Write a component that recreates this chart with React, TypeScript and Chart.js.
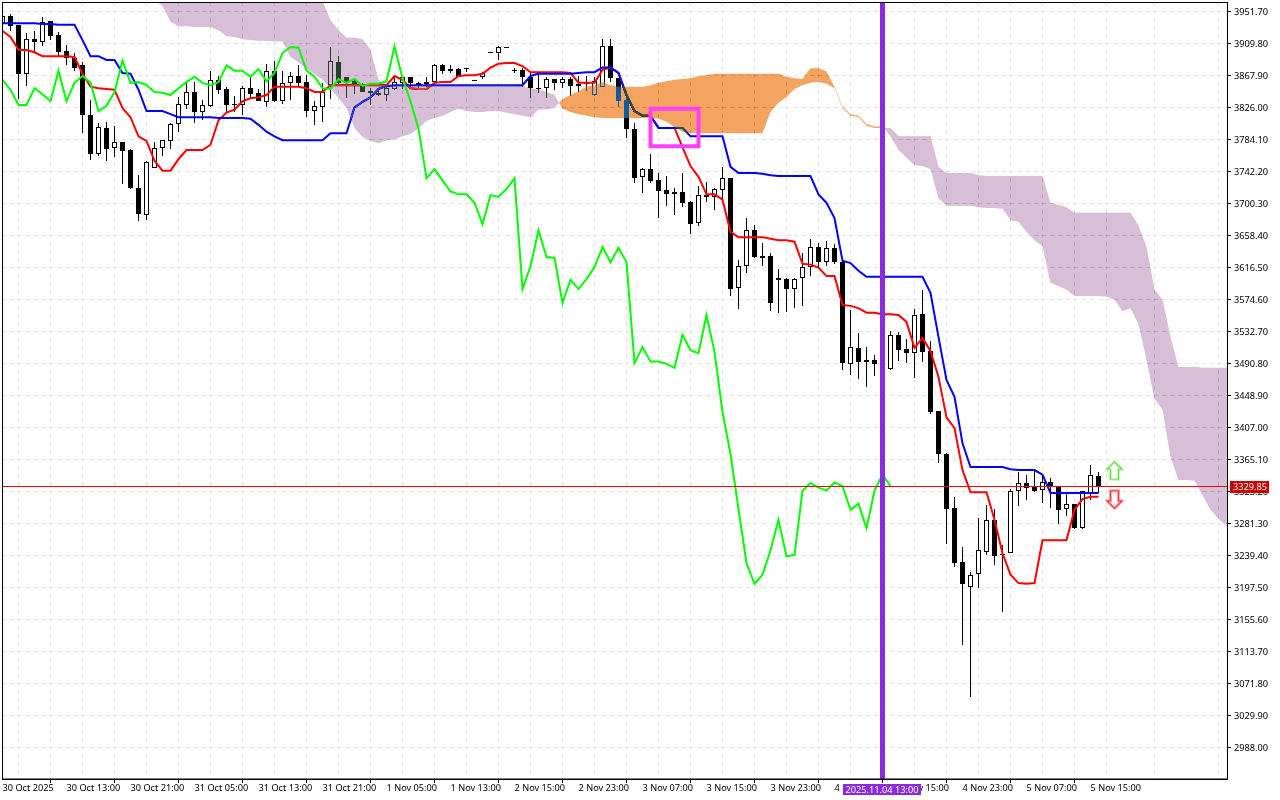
import { useRef, useEffect } from "react";
import { Chart, registerables } from "chart.js";

const FONT = "'Noto Sans'";
const FONT_SIZE = 9.2;

const timeLabels = ["30 Oct 2025", "30 Oct 13:00", "30 Oct 21:00", "31 Oct 05:00", "31 Oct 13:00", "31 Oct 21:00", "1 Nov 05:00", "1 Nov 13:00", "2 Nov 15:00", "2 Nov 23:00", "3 Nov 07:00", "3 Nov 15:00", "3 Nov 23:00", "4 Nov 07:00", "4 Nov 15:00", "4 Nov 23:00", "5 Nov 07:00", "5 Nov 15:00"];
const priceTicks = [3951.7, 3909.8, 3867.9, 3826.0, 3784.1, 3742.2, 3700.3, 3658.4, 3616.5, 3574.6, 3532.7, 3490.8, 3448.9, 3407.0, 3365.1, 3323.2, 3281.3, 3239.4, 3197.5, 3155.6, 3113.7, 3071.8, 3029.9, 2988.0];

const opens = [3935, 3946, 3934, 3870, 3915, 3912, 3939, 3921, 3900, 3891, 3881, 3816, 3765, 3799, 3773, 3781, 3770, 3720, 3685, 3747,
  3773, 3782, 3804, 3829, 3846, 3820, 3828, 3862, 3850, 3830, 3829, 3851, 3845, 3833, 3874, 3834, 3858, 3867, 3859, 3821,
  3826, 3855, 3885, 3866, 3860, 3854, 3847, 3845, 3842, 3850, 3858, 3866, 3858, 3857, 3859, 3881, 3876, 3876, 3878, 3862,
  3866, 3898, 3897, 3905, 3875, 3875, 3866, 3851, 3851, 3863, 3858, 3863, 3854, 3858, 3842, 3853, 3906, 3864, 3836, 3798,
  3735, 3745, 3731, 3718, 3715, 3715, 3702, 3675, 3711, 3709, 3718, 3733, 3589, 3618, 3665, 3631, 3631, 3603, 3601, 3588,
  3603, 3617, 3643, 3623, 3642, 3623, 3490, 3511, 3495, 3495, 3490, 3483, 3528, 3510, 3504, 3555, 3507, 3428, 3372, 3301,
  3231, 3198, 3215, 3244, 3286, 3241, 3242, 3324, 3334, 3329, 3325, 3335, 3330, 3300, 3307, 3275, 3321, 3343];
const highs = [3947, 3948, 3934, 3923, 3926, 3944, 3939, 3925, 3908, 3897, 3885, 3836, 3805, 3807, 3802, 3781, 3771, 3737, 3756, 3781,
  3783, 3805, 3839, 3858, 3859, 3836, 3874, 3867, 3853, 3841, 3854, 3866, 3850, 3883, 3887, 3874, 3872, 3881, 3868, 3834,
  3858, 3905, 3893, 3866, 3863, 3858, 3851, 3851, 3855, 3866, 3866, 3866, 3859, 3866, 3883, 3883, 3881, 3878, 3878, 3862,
  3872, 3898, 3906, 3905, 3878, 3878, 3871, 3868, 3866, 3863, 3866, 3866, 3867, 3867, 3866, 3915, 3915, 3864, 3842, 3805,
  3747, 3765, 3740, 3736, 3720, 3740, 3703, 3723, 3728, 3720, 3748, 3733, 3626, 3681, 3672, 3648, 3635, 3614, 3603, 3603,
  3635, 3654, 3648, 3651, 3647, 3625, 3561, 3531, 3512, 3502, 3500, 3533, 3532, 3523, 3562, 3587, 3520, 3428, 3373, 3316,
  3250, 3217, 3288, 3305, 3300, 3253, 3326, 3349, 3345, 3350, 3345, 3341, 3330, 3321, 3307, 3324, 3358, 3349];
const lows = [3931, 3926, 3837, 3854, 3898, 3906, 3914, 3892, 3881, 3874, 3792, 3757, 3762, 3756, 3761, 3726, 3719, 3677, 3678, 3747,
  3762, 3771, 3794, 3824, 3805, 3809, 3826, 3843, 3820, 3820, 3816, 3838, 3834, 3826, 3833, 3830, 3836, 3854, 3813, 3803,
  3807, 3837, 3855, 3838, 3843, 3846, 3829, 3841, 3834, 3849, 3850, 3851, 3849, 3853, 3858, 3870, 3871, 3866, 3872, 3860,
  3863, 3897, 3888, 3904, 3871, 3853, 3838, 3845, 3838, 3849, 3851, 3841, 3846, 3847, 3841, 3853, 3859, 3826, 3786, 3727,
  3714, 3727, 3681, 3697, 3685, 3695, 3660, 3671, 3702, 3692, 3705, 3579, 3562, 3609, 3629, 3618, 3559, 3557, 3558, 3563,
  3566, 3605, 3617, 3618, 3621, 3482, 3475, 3470, 3460, 3474, 3480, 3482, 3494, 3491, 3472, 3493, 3424, 3360, 3254, 3224,
  3122, 3054, 3197, 3240, 3227, 3165, 3242, 3304, 3312, 3322, 3308, 3301, 3280, 3291, 3274, 3274, 3312, 3321];
const closes = [3946, 3932, 3870, 3915, 3912, 3938, 3919, 3898, 3891, 3878, 3816, 3765, 3800, 3771, 3781, 3769, 3720, 3686, 3754, 3773,
  3783, 3804, 3830, 3846, 3820, 3829, 3862, 3849, 3829, 3829, 3851, 3843, 3834, 3874, 3834, 3858, 3867, 3858, 3821, 3828,
  3846, 3887, 3858, 3859, 3855, 3846, 3845, 3842, 3851, 3859, 3866, 3858, 3855, 3859, 3881, 3874, 3874, 3866, 3876, 3860,
  3871, 3897, 3905, 3904, 3874, 3866, 3851, 3850, 3863, 3858, 3863, 3854, 3857, 3857, 3860, 3906, 3864, 3834, 3798, 3733,
  3745, 3730, 3716, 3712, 3712, 3701, 3673, 3711, 3709, 3719, 3733, 3588, 3618, 3665, 3630, 3629, 3570, 3600, 3588, 3601,
  3617, 3643, 3623, 3642, 3623, 3491, 3512, 3493, 3493, 3490, 3485, 3528, 3508, 3504, 3554, 3506, 3427, 3372, 3300, 3229,
  3202, 3214, 3246, 3286, 3238, 3240, 3324, 3334, 3328, 3324, 3335, 3330, 3299, 3307, 3275, 3324, 3345, 3330];

const tenkan = [3926, 3918, 3901, 3901, 3898, 3893, 3893, 3893, 3893, 3892, 3870, 3853, 3851, 3850, 3849, 3825, 3813, 3788, 3782, 3756,
  3743, 3743, 3758, 3770, 3770, 3770, 3777, 3809, 3819, 3823, 3834, 3838, 3839, 3842, 3853, 3853, 3853, 3853, 3851, 3846,
  3846, 3855, 3855, 3855, 3855, 3855, 3855, 3855, 3855, 3867, 3862, 3851, 3850, 3850, 3858, 3859, 3859, 3867, 3868, 3868,
  3870, 3878, 3883, 3884, 3884, 3880, 3872, 3872, 3872, 3872, 3872, 3871, 3858, 3858, 3858, 3875, 3878, 3871, 3842, 3821,
  3815, 3815, 3799, 3799, 3799, 3774, 3749, 3735, 3712, 3712, 3705, 3663, 3656, 3656, 3656, 3656, 3654, 3652, 3652, 3650,
  3621, 3620, 3616, 3605, 3605, 3567, 3566, 3563, 3557, 3557, 3555, 3555, 3554, 3545, 3511, 3524, 3507, 3473, 3420, 3406,
  3351, 3322, 3322, 3322, 3286, 3242, 3214, 3203, 3202, 3203, 3259, 3259, 3259, 3259, 3299, 3313, 3316, 3316];
const kijun = [3936, 3936, 3936, 3936, 3936, 3935, 3935, 3934, 3934, 3934, 3914, 3893, 3893, 3888, 3888, 3871, 3870, 3849, 3821, 3821,
  3821, 3817, 3813, 3813, 3813, 3813, 3813, 3812, 3812, 3812, 3812, 3811, 3803, 3794, 3788, 3783, 3783, 3783, 3783, 3783,
  3783, 3792, 3792, 3792, 3826, 3833, 3839, 3850, 3854, 3855, 3855, 3855, 3855, 3855, 3855, 3855, 3855, 3855, 3855, 3855,
  3855, 3855, 3855, 3855, 3855, 3855, 3867, 3870, 3870, 3870, 3870, 3870, 3871, 3872, 3872, 3878, 3878, 3871, 3842, 3821,
  3815, 3815, 3799, 3799, 3799, 3799, 3788, 3788, 3788, 3788, 3788, 3748, 3740, 3740, 3740, 3739, 3737, 3736, 3736, 3736,
  3736, 3736, 3712, 3701, 3681, 3625, 3622, 3612, 3604, 3604, 3604, 3604, 3604, 3604, 3604, 3604, 3583, 3525, 3469, 3447,
  3386, 3355, 3355, 3355, 3355, 3355, 3352, 3351, 3351, 3351, 3345, 3321, 3321, 3321, 3321, 3321, 3321, 3321];
const chikou = [3862, 3849, 3829, 3829, 3851, 3843, 3834, 3874, 3834, 3858, 3867, 3858, 3821, 3828, 3846, 3887, 3858, 3859, 3855, 3846,
  3845, 3842, 3851, 3859, 3866, 3858, 3855, 3859, 3881, 3874, 3874, 3866, 3876, 3860, 3871, 3897, 3905, 3904, 3874, 3866,
  3851, 3850, 3863, 3858, 3863, 3854, 3857, 3857, 3860, 3906, 3864, 3834, 3798, 3733, 3745, 3730, 3716, 3712, 3712, 3701,
  3673, 3711, 3709, 3719, 3733, 3588, 3618, 3665, 3630, 3629, 3570, 3600, 3588, 3601, 3617, 3643, 3623, 3642, 3623, 3491,
  3512, 3493, 3493, 3490, 3485, 3528, 3508, 3504, 3554, 3506, 3427, 3372, 3300, 3229, 3202, 3214, 3246, 3286, 3238, 3240,
  3324, 3334, 3328, 3324, 3335, 3330, 3299, 3307, 3275, 3324, 3345, 3330];

// both spans start at bar 18, the cloud runs past the last candle
const spanStart = 18;
const spanA = [3986, 3965, 3959, 3938, 3932, 3932, 3931, 3931, 3931, 3927, 3919, 3918, 3915, 3914, 3913, 3913, 3912, 3912, 3892, 3885,
  3876, 3870, 3862, 3851, 3838, 3825, 3799, 3787, 3782, 3779, 3783, 3784, 3788, 3791, 3798, 3808, 3812, 3815, 3820, 3824,
  3821, 3820, 3820, 3821, 3821, 3819, 3817, 3815, 3813, 3823, 3823, 3825,
  3837, 3842, 3847, 3853, 3855, 3859, 3855, 3853, 3853, 3853, 3853, 3855, 3858, 3860, 3862, 3863, 3864, 3867, 3868, 3870,
  3870, 3870, 3870, 3870, 3870, 3870, 3870, 3870, 3866, 3864, 3863, 3877, 3877, 3873, 3853, 3827, 3817, 3815, 3804, 3801, 3801,
  3788, 3770, 3760, 3750, 3749, 3745, 3707, 3697, 3697, 3697, 3697, 3695, 3694, 3694, 3693, 3678, 3676, 3663, 3652, 3644,
  3596, 3592, 3587, 3579, 3579, 3579, 3579, 3578, 3574, 3559, 3563, 3542, 3495, 3444, 3430, 3368, 3338, 3338, 3337, 3318, 3299, 3287, 3278, 3270];
const spanB = [4006, 4006, 4006, 4006, 4006, 4006, 4006, 4006, 4006, 4006, 4006, 4006, 4006, 4006, 4006, 4006, 4006, 4006, 3995, 3990,
  3985, 3980, 3965, 3940, 3927, 3917, 3917, 3915, 3901, 3862, 3855, 3855, 3855, 3855, 3855, 3855, 3855, 3855, 3855, 3855,
  3855, 3855, 3855, 3855, 3855, 3855, 3855, 3854, 3851, 3849, 3846, 3842,
  3824, 3820, 3817, 3815, 3813, 3812, 3812, 3812, 3812, 3812, 3812, 3812, 3811, 3807, 3800, 3794, 3792, 3792, 3792, 3792,
  3792, 3792, 3792, 3792, 3792, 3792, 3820, 3832, 3839, 3850, 3855, 3858, 3859, 3857, 3851, 3825, 3815, 3813, 3802, 3799, 3799,
  3799, 3788, 3788, 3788, 3788, 3788, 3748, 3740, 3740, 3740, 3740, 3737, 3736, 3736, 3736, 3736, 3736, 3736, 3736, 3736,
  3701, 3698, 3695, 3688, 3688, 3688, 3688, 3688, 3688, 3688, 3688, 3671, 3643, 3587, 3574, 3525, 3486, 3486, 3486, 3485, 3485, 3485, 3485, 3485];

const lastPrice = 3329.85;
const markerBar = 110;
const markerLabel = "2025.11.04 13:00";
const boxBars = [81, 87, 87, 81, 81];
const boxPrices = [3824, 3824, 3775, 3775, 3824];
const arrowBar = 139;
const arrowUpPrice = 3350;
const arrowDownPrice = 3312;

const priceMax = 3963.88;
const priceMin = 2946.48;
const barMax = 153.0625;

function makeArrow(up: boolean, outer: string, inner: string) {
  const c = document.createElement("canvas");
  c.width = 19;
  c.height = 21;
  const g = c.getContext("2d")!;
  const path = () => {
    g.beginPath();
    const pts = [[9.5, 1.5], [17, 9], [13.5, 9], [13.5, 19], [5.5, 19], [5.5, 9], [2, 9]];
    pts.forEach(([x, y], i) => {
      const py = up ? y : 20.5 - y;
      if (i === 0) g.moveTo(x, py);
      else g.lineTo(x, py);
    });
    g.closePath();
  };
  path();
  g.fillStyle = "#fff";
  g.fill();
  g.strokeStyle = inner;
  g.lineWidth = 3;
  g.stroke();
  path();
  g.strokeStyle = outer;
  g.lineWidth = 1.2;
  g.stroke();
  return c;
}

// has to be registered ahead of the filler so the cloud fill picks up the blend mode
const cloudBlend = {
  id: "cloudBlend",
  beforeDraw(chart: Chart) {
    chart.ctx.fillStyle = "#fff";
    chart.ctx.fillRect(0, 0, chart.width, chart.height);
  },
  beforeDatasetDraw(chart: Chart, args: any) {
    const label = (chart.data.datasets[args.index] as any).label;
    if (label === "Senkou A") {
      chart.ctx.globalCompositeOperation = "difference";
    }
    // candles and the price line sit on whole pixels in the terminal
    if (label === "Wicks" || label === "Bodies") {
      args.meta.data.forEach((el: any) => {
        el.y = Math.round(el.y);
        el.base = Math.round(el.base);
      });
    }
    if (label === "Last") {
      args.meta.data.forEach((el: any) => {
        el.y = Math.floor(el.y) + 0.5;
      });
    }
  },
  afterDatasetDraw(chart: Chart) {
    chart.ctx.globalCompositeOperation = "source-over";
  },
};

const frameAndTags = {
  id: "frameAndTags",
  afterDraw(chart: Chart) {
    const { ctx, chartArea } = chart;
    ctx.save();
    ctx.strokeStyle = "#000";
    ctx.lineWidth = 1;
    ctx.strokeRect(2.5, 2.5, 1225, chartArea.bottom - 2.5);

    const y = chart.scales.y.getPixelForValue(lastPrice);
    ctx.fillStyle = "#cc0000";
    ctx.fillRect(1230, Math.round(y) - 5, 39, 12);
    ctx.fillStyle = "#fff";
    ctx.font = `${FONT_SIZE}px ${FONT}`;
    ctx.textBaseline = "middle";
    ctx.textAlign = "left";
    ctx.fillText(lastPrice.toFixed(2), 1233, Math.round(y) + 1);

    const x = chart.scales.x.getPixelForValue(markerBar);
    ctx.fillStyle = "#8a2be2";
    ctx.fillRect(x - 39.5, 784, 78, 11);
    ctx.fillStyle = "#fff";
    ctx.textAlign = "center";
    ctx.fillText(markerLabel, x - 0.5, 790);
    ctx.restore();
  },
};

Chart.register(cloudBlend);
Chart.register(...registerables);

const bars = closes.map((_, i) => i);
const xTicks: number[] = [];
for (let i = 0; i <= 152; i += 4) xTicks.push(i);

function lineSet(label: string, values: number[], color: string, order: number, start = 0) {
  return {
    type: "line" as const,
    label,
    data: values.map((y, i) => ({ x: i + start, y })),
    borderColor: color,
    borderWidth: 2,
    pointRadius: 0,
    tension: 0,
    fill: false,
    order,
  };
}

function noPadding(axis: any) {
  axis.paddingLeft = 0;
  axis.paddingRight = 0;
  axis.paddingTop = 0;
  axis.paddingBottom = 0;
}

function App() {
  const chartRef = useRef<HTMLCanvasElement>(null);

  useEffect(() => {
    if (!chartRef.current) return;
    document.body.style.margin = "0";

    const chart = new Chart(chartRef.current, {
      type: "line",
      data: {
        datasets: [
          {
            type: "bar",
            label: "Wicks",
            data: bars.map((i) => ({ x: i, y: [lows[i], highs[i]] })),
            backgroundColor: "#000",
            borderWidth: 0,
            barThickness: 1,
            grouped: false,
            inflateAmount: 0,
            order: 12,
          },
          {
            type: "bar",
            label: "Bodies",
            data: bars.map((i) => ({ x: i, y: [opens[i], closes[i]] })),
            backgroundColor: bars.map((i) => (closes[i] > opens[i] ? "#fff" : "#000")),
            borderColor: "#000",
            borderWidth: 1,
            borderSkipped: false,
            barThickness: 5,
            grouped: false,
            inflateAmount: 0,
            order: 11,
          },
          lineSet("Tenkan", tenkan, "#ff0000", 10),
          lineSet("Kijun", kijun, "#0000ff", 9),
          {
            type: "line",
            label: "Senkou A",
            data: spanA.map((y, i) => ({ x: i + spanStart, y })),
            borderWidth: 0,
            pointRadius: 0,
            // fill colours are the inverse of the cloud colours, they get blended with difference
            fill: { target: "+1", above: "rgb(11,91,159)", below: "rgb(39,64,39)" },
            order: 8,
          },
          {
            type: "line",
            label: "Senkou B",
            data: spanB.map((y, i) => ({ x: i + spanStart, y })),
            borderWidth: 0,
            pointRadius: 0,
            fill: false,
            order: 7,
          },
          lineSet("Chikou", chikou, "#00ff00", 6),
          {
            type: "line",
            label: "Last",
            data: [{ x: 0, y: lastPrice }, { x: barMax, y: lastPrice }],
            borderColor: "#ff0000",
            borderWidth: 1,
            pointRadius: 0,
            fill: false,
            order: 5,
          },
          {
            type: "line",
            label: "Arrows",
            data: [{ x: arrowBar, y: arrowUpPrice }, { x: arrowBar, y: arrowDownPrice }],
            showLine: false,
            pointStyle: [makeArrow(true, "#55dd55", "#e4f5b8"), makeArrow(false, "#ff3030", "#ffb4c4")],
            pointRadius: 9,
            order: 4,
          },
          {
            type: "line",
            label: "Marker",
            data: [{ x: markerBar, y: priceMin }, { x: markerBar, y: priceMax }],
            borderColor: "#8a2be2",
            borderWidth: 5,
            pointRadius: 0,
            order: 3,
          },
          {
            type: "line",
            label: "Box",
            data: boxBars.map((x, i) => ({ x, y: boxPrices[i] })),
            borderColor: "#ff40ff",
            borderWidth: 4,
            borderJoinStyle: "miter",
            borderCapStyle: "square",
            pointRadius: 0,
            order: 2,
          },
        ] as any,
      },
      options: {
        responsive: false,
        devicePixelRatio: 1,
        animation: false,
        layout: { autoPadding: false, padding: { left: 2.5, top: 2 } },
        plugins: {
          legend: { display: false },
          tooltip: { enabled: false },
          filler: { drawTime: "beforeDatasetDraw" },
        },
        scales: {
          x: {
            type: "linear",
            min: 0,
            max: barMax,
            offset: false,
            afterBuildTicks: (axis: any) => {
              axis.ticks = xTicks.map((value) => ({ value }));
            },
            afterFit: (axis: any) => {
              axis.height = 21;
              noPadding(axis);
            },
            grid: {
              color: "#e4e4e4",
              tickLength: 4,
              tickColor: (ctx: any) => (ctx.tick && ctx.tick.value % 8 === 0 ? "#000" : "rgba(0,0,0,0)"),
            },
            border: { color: "#000", dash: [4, 4] },
            ticks: {
              autoSkip: false,
              maxRotation: 0,
              align: "start",
              padding: 0,
              color: "#000",
              font: { family: FONT, size: FONT_SIZE },
              callback: (value: any) => (value % 8 === 0 ? timeLabels[value / 8] : ""),
            },
          },
          y: {
            type: "linear",
            position: "right",
            min: priceMin,
            max: priceMax,
            afterBuildTicks: (axis: any) => {
              axis.ticks = priceTicks.map((value) => ({ value }));
            },
            afterFit: (axis: any) => {
              axis.width = 53;
              noPadding(axis);
            },
            grid: { color: "#e4e4e4", tickLength: 4, tickColor: "#000" },
            border: { color: "#000", dash: [4, 4] },
            ticks: {
              autoSkip: false,
              padding: 3,
              labelOffset: 1,
              color: "#000",
              font: { family: FONT, size: FONT_SIZE },
              callback: (value: any) => Number(value).toFixed(2),
            },
          },
        },
      } as any,
      plugins: [frameAndTags],
    });

    return () => chart.destroy();
  }, []);

  return (
    <div style={{ position: "absolute", left: 0, top: 0, width: 1280, height: 800 }}>
      <canvas ref={chartRef} width={1280} height={800} style={{ display: "block" }}></canvas>
    </div>
  );
}

export default App;
